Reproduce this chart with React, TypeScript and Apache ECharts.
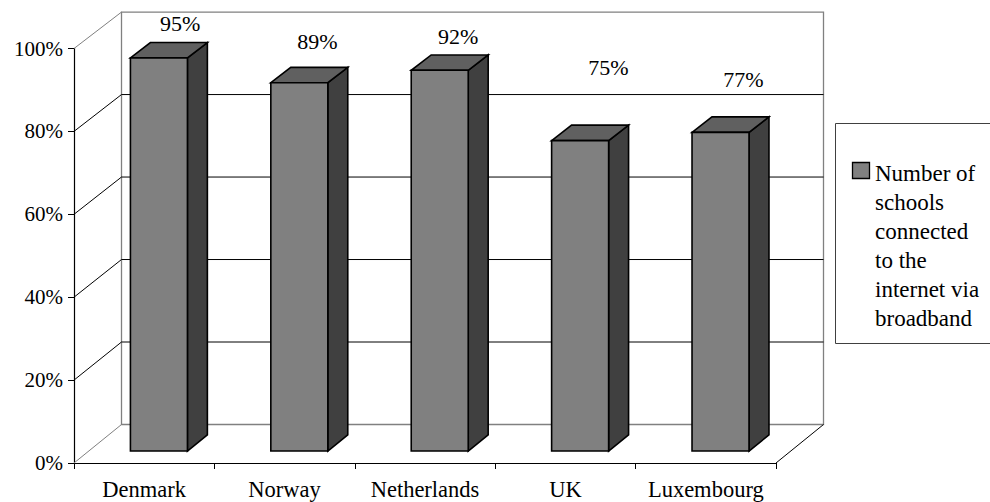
import React, { useEffect, useRef } from "react";
import * as echarts from "echarts";

const CATEGORIES = ["Denmark", "Norway", "Netherlands", "UK", "Luxembourg"];
const VALUES = [95, 89, 92, 75, 77];
const Y_TICKS = [0, 20, 40, 60, 80, 100];
const SERIES_NAME = "Number of schools connected to the internet via broadband";
const LEGEND_LINES = ["Number of", "schools", "connected", "to the", "internet via", "broadband"];

// layout (pixels) – not data
const DEPTH_DX = 47.5;
const DEPTH_DY = 38.5;
const SHRINK = 0.005;
const BAR_F1 = 0.31;
const BAR_F2 = 0.73;
const BAR_W = 0.406;
const LABEL_NUDGE: [number, number][] = [
  [36, -18.6],
  [32.7, -25.6],
  [33.2, -18],
  [43, -57.7],
  [37.5, -37.4],
];
const FONT = "'Liberation Serif', 'Times New Roman', Times, 'Liberation Sans', sans-serif";

export default function App() {
  const ref = useRef<HTMLDivElement>(null);
  useEffect(() => {
    if (!ref.current) return;
    const chart = echarts.init(ref.current, undefined, { renderer: "svg" });
    const yMin = Y_TICKS[0];
    const yMax = Y_TICKS[Y_TICKS.length - 1];
    const step = Y_TICKS[1] - Y_TICKS[0];

    const makeP = (api: any) => {
      const y0 = api.coord([0, yMin])[1];
      return (x: number, v: number, f: number) => {
        const yv = api.coord([0, v])[1];
        return [x + DEPTH_DX * f, y0 - DEPTH_DY * f - (y0 - yv) * (1 - SHRINK * f)];
      };
    };

    const frameRender = (params: any, api: any) => {
      const cs = params.coordSys;
      const L = cs.x;
      const R = cs.x + cs.width;
      const P = makeP(api);
      const line = (a: number[], b: number[], stroke: string) => ({
        type: "line",
        shape: { x1: a[0], y1: a[1], x2: b[0], y2: b[1] },
        style: { stroke, lineWidth: 1 },
      });
      const children: any[] = [];
      children.push({
        type: "polygon",
        shape: { points: [P(L, yMin, 0), P(R, yMin, 0), P(R, yMin, 1), P(L, yMin, 1)] },
        style: { fill: "#ffffff", stroke: "none" },
      });
      children.push({
        type: "polygon",
        shape: { points: [P(L, yMin, 1), P(R, yMin, 1), P(R, yMax, 1), P(L, yMax, 1)] },
        style: { fill: "#ffffff", stroke: "#808080", lineWidth: 1.3 },
      });
      Y_TICKS.slice(1, -1).forEach((t) => {
        children.push(line(P(L, t, 1), P(R, t, 1), "#000000"));
        children.push(line(P(L, t, 0), P(L, t, 1), "#000000"));
      });
      children.push(line(P(L, yMax, 0), P(L, yMax, 1), "#808080"));
      children.push(line(P(L, yMin, 0), P(L, yMin, 1), "#808080"));
      children.push(line(P(R, yMin, 0), P(R, yMin, 1), "#000000"));
      return { type: "group", children };
    };

    const barRender = (params: any, api: any) => {
      const i = api.value(0);
      const v = api.value(1);
      const P = makeP(api);
      const cx = api.coord([i, yMin])[0];
      const w = api.size([1, 0])[0] * BAR_W;
      const xl = cx - w / 2;
      const xr = cx + w / 2;
      const stroke = { stroke: "#000000", lineWidth: 1.6, lineJoin: "miter" };
      const top2 = P(cx, v, BAR_F2);
      const nudge = LABEL_NUDGE[i] || [0, -20];
      return {
        type: "group",
        children: [
          {
            type: "polygon",
            shape: { points: [P(xr, yMin, BAR_F1), P(xr, yMin, BAR_F2), P(xr, v, BAR_F2), P(xr, v, BAR_F1)] },
            style: { fill: "#404040", ...stroke },
          },
          {
            type: "polygon",
            shape: { points: [P(xl, v, BAR_F1), P(xr, v, BAR_F1), P(xr, v, BAR_F2), P(xl, v, BAR_F2)] },
            style: { fill: "#606060", ...stroke },
          },
          {
            type: "polygon",
            shape: { points: [P(xl, yMin, BAR_F1), P(xr, yMin, BAR_F1), P(xr, v, BAR_F1), P(xl, v, BAR_F1)] },
            style: { fill: "#808080", ...stroke },
          },
          {
            type: "text",
            x: cx + nudge[0],
            y: top2[1] + nudge[1],
            style: {
              text: `${v}%`,
              fill: "#000000",
              fontFamily: FONT,
              fontSize: 22,
              align: "center",
              verticalAlign: "middle",
            },
          },
        ],
      };
    };

    chart.setOption({
      animation: false,
      backgroundColor: "#ffffff",
      textStyle: { fontFamily: FONT },
      grid: { left: 74, right: 214, top: 48.5, bottom: 39, containLabel: false, outerBoundsMode: "none" },
      xAxis: {
        type: "category",
        data: CATEGORIES,
        boundaryGap: true,
        axisLine: { show: true, lineStyle: { color: "#000000", width: 1.2 } },
        axisTick: { show: true, alignWithLabel: false, length: 6, lineStyle: { color: "#000000" } },
        axisLabel: {
          color: "#000000",
          fontFamily: FONT,
          fontSize: 22.5,
          lineHeight: 22,
          margin: 15,
          interval: 0,
        },
        splitLine: { show: false },
      },
      yAxis: {
        type: "value",
        min: yMin,
        max: yMax,
        interval: step,
        axisLine: { show: true, lineStyle: { color: "#000000", width: 1.2 } },
        axisTick: { show: true, length: 6, lineStyle: { color: "#000000" } },
        axisLabel: { color: "#000000", fontFamily: FONT, fontSize: 21, margin: 11, formatter: "{value}%" },
        splitLine: { show: false },
      },
      series: [
        {
          type: "custom",
          name: "frame",
          renderItem: frameRender,
          data: [[0, 0]],
          encode: { x: 0, y: 1 },
          clip: false,
          silent: true,
          z: 1,
        },
        {
          type: "custom",
          name: SERIES_NAME,
          renderItem: barRender,
          data: VALUES.map((v, i) => [i, v]),
          encode: { x: 0, y: 1 },
          clip: false,
          z: 2,
        },
      ],
      graphic: [
        {
          type: "rect",
          shape: { x: 835.5, y: 123.5, width: 200, height: 220 },
          style: { fill: "#ffffff", stroke: "#404040", lineWidth: 1 },
          z: 10,
        },
        {
          type: "rect",
          shape: { x: 852.5, y: 162.5, width: 17, height: 16 },
          style: { fill: "#808080", stroke: "#000000", lineWidth: 1.3 },
          z: 11,
        },
        ...LEGEND_LINES.map((t, k) => ({
          type: "text",
          x: 875,
          y: 173 + k * 29,
          style: {
            text: t,
            fill: "#000000",
            fontFamily: FONT,
            fontSize: 23,
            align: "left",
            verticalAlign: "middle",
          },
          z: 11,
        })),
      ],
    });
    return () => chart.dispose();
  }, []);
  return (
    <div
      ref={ref}
      style={{ position: "fixed", left: 0, top: 0, width: 990, height: 502, background: "#ffffff" }}
    />
  );
}
